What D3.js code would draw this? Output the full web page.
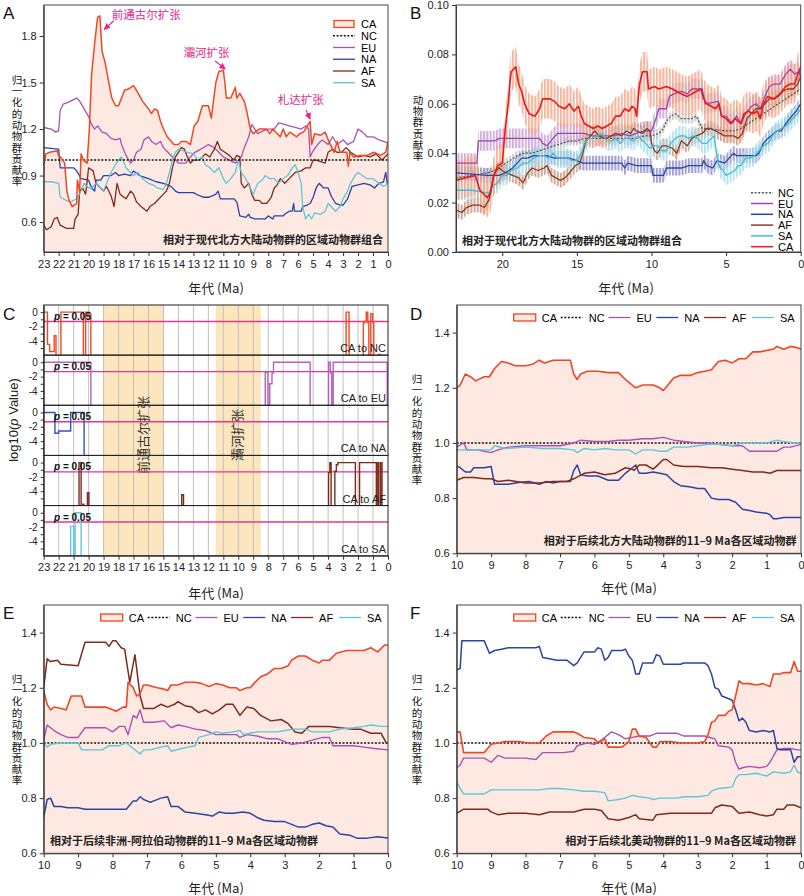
<!DOCTYPE html>
<html>
<head>
<meta charset="utf-8">
<script src="https://cdn.jsdelivr.net/npm/d3@7/dist/d3.min.js"></script>
<style>
body{margin:0;background:#fff}
svg text{font-family:"Liberation Sans",Arial,sans-serif}
svg text.cjk{font-family:"Noto Sans CJK SC",sans-serif}
</style>
</head>
<body>
<svg id="chart" width="804" height="896"></svg>
<script>
// ---------------- panel A : normalised contribution, 23-0 Ma
var ageTicksA = d3.range(23, -1, -1)
var yTicksA = [0.6, 0.9, 1.2, 1.5, 1.8]
var aNC = [[23,1],[0,1]]
var aCA = [[23,0.97],[22.85,1.04],[22.6,1.05],[22.1,1.06],[22.0,1.03],[21.8,1.01],[21.6,0.98],[21.45,0.80],[21.3,0.74],[21.1,0.70],[20.8,0.72],[20.75,0.87],[20.6,0.80],[20.5,1.04],[20.35,1.00],[20.1,0.98],[19.95,1.20],[19.8,1.55],[19.6,1.75],[19.4,1.92],[19.25,1.93],[19.1,1.70],[18.9,1.63],[18.65,1.50],[18.45,1.40],[18.2,1.35],[18.0,1.35],[17.8,1.40],[17.6,1.45],[17.3,1.46],[17.0,1.48],[16.8,1.45],[16.4,1.38],[16.0,1.33],[15.8,1.30],[15.6,1.33],[15.4,1.32],[15.2,1.25],[15.0,1.20],[14.75,1.15],[14.3,1.10],[14.0,1.10],[13.8,1.12],[13.5,1.12],[13.2,1.10],[12.95,1.22],[12.7,1.25],[12.4,1.35],[12.0,1.35],[11.8,1.27],[11.7,1.35],[11.5,1.50],[11.3,1.57],[11.0,1.58],[10.9,1.50],[10.8,1.40],[10.5,1.40],[10.2,1.47],[10.1,1.40],[9.9,1.43],[9.6,1.38],[9.4,1.30],[9.2,1.20],[9.0,1.17],[8.6,1.20],[8.1,1.20],[7.9,1.17],[7.7,1.20],[7.2,1.15],[7.0,1.20],[6.8,1.15],[6.55,1.18],[6.1,1.15],[5.9,1.17],[5.65,1.18],[5.2,1.25],[5.1,1.10],[4.9,1.17],[4.5,1.16],[4.2,1.18],[3.95,1.12],[3.6,1.05],[3.4,1.12],[3.2,1.05],[2.75,1.05],[2.65,0.96],[2.55,1.05],[2.3,1.02],[1.85,1.03],[1.4,1.03],[0.95,1.05],[0.5,1.03],[0.15,1.05],[0,1.12]]
var aEU = [[23,1.21],[22.5,1.20],[22.2,1.18],[22.0,1.19],[21.9,1.32],[21.7,1.36],[21.4,1.37],[21.0,1.39],[20.8,1.40],[20.6,1.38],[20.3,1.33],[20.0,1.28],[19.8,1.23],[19.6,1.20],[19.4,1.22],[19.1,1.18],[18.8,1.17],[18.5,1.14],[18.2,1.13],[17.9,1.14],[17.8,1.10],[17.5,1.03],[17.2,0.98],[17.0,1.00],[16.8,1.05],[16.5,1.07],[16.3,1.13],[16.0,1.15],[15.8,1.12],[15.5,1.10],[15.2,1.12],[15.0,1.08],[14.8,1.06],[14.4,1.02],[14.0,0.98],[13.5,0.98],[13.2,1.02],[12.9,1.05],[12.5,1.07],[12.0,1.10],[11.6,1.08],[11.3,1.05],[11.0,1.02],[10.6,1.00],[10.2,0.98],[9.8,1.02],[9.6,1.08],[9.3,1.15],[9.1,1.23],[8.9,1.20],[8.7,1.17],[8.3,1.19],[8.0,1.20],[7.6,1.20],[7.3,1.24],[6.9,1.23],[6.6,1.22],[6.2,1.21],[5.8,1.20],[5.5,1.22],[5.3,1.20],[5.2,1.02],[5.0,1.06],[4.7,1.10],[4.4,1.13],[4.0,1.10],[3.7,1.15],[3.4,1.10],[3.0,1.13],[2.7,1.10],[2.3,1.12],[2.0,1.20],[1.7,1.18],[1.4,1.15],[1.0,1.15],[0.6,1.13],[0.3,1.12],[0,1.11]]
var aNA = [[23,1.08],[22.0,1.07],[21.9,0.95],[21.0,0.95],[20.8,0.93],[20.5,0.88],[20.0,0.87],[19.8,0.82],[19.6,0.80],[19.5,0.87],[19.2,0.87],[19.0,0.90],[18.5,0.90],[18.2,0.92],[18.0,0.90],[17.6,0.91],[17.2,0.90],[17.0,0.93],[16.6,0.90],[16.0,0.88],[15.5,0.86],[15.0,0.85],[14.5,0.83],[14.2,0.80],[14.0,0.79],[13.0,0.79],[12.6,0.77],[12.3,0.76],[12.0,0.76],[11.7,0.77],[11.5,0.78],[11.35,0.80],[11.2,0.75],[10.3,0.75],[10.1,0.73],[9.9,0.64],[9.5,0.63],[9.3,0.65],[9.2,0.63],[8.9,0.62],[8.2,0.62],[8.0,0.64],[7.7,0.62],[7.6,0.64],[7.0,0.64],[6.9,0.65],[6.6,0.67],[6.4,0.67],[6.3,0.72],[6.25,0.67],[5.8,0.67],[5.7,0.70],[5.4,0.71],[5.2,0.72],[5.0,0.76],[4.8,0.82],[4.6,0.85],[4.3,0.82],[4.0,0.82],[3.8,0.77],[3.5,0.72],[3.2,0.71],[3.0,0.71],[2.7,0.75],[2.4,0.83],[2.0,0.84],[1.6,0.85],[1.2,0.84],[0.9,0.82],[0.6,0.85],[0.3,0.86],[0.15,0.92],[0.05,0.85],[0,0.85]]
var aAF = [[23,0.58],[22.8,0.55],[22.5,0.57],[22.3,0.62],[22.1,0.63],[21.9,0.58],[21.5,0.56],[21.0,0.56],[20.9,0.62],[20.7,0.65],[20.6,0.80],[20.4,0.82],[20.2,0.78],[20.0,0.95],[19.7,0.93],[19.5,0.85],[19.2,0.82],[19.0,0.80],[18.8,0.83],[18.5,0.77],[18.3,0.70],[18.1,0.85],[17.9,0.78],[17.5,0.75],[17.2,0.80],[17.0,0.78],[16.8,0.73],[16.5,0.70],[16.1,0.67],[15.9,0.70],[15.6,0.72],[15.3,0.75],[15.0,0.78],[14.8,0.80],[14.6,0.85],[14.4,0.95],[14.2,1.02],[14.0,1.05],[13.8,1.08],[13.6,1.07],[13.4,1.02],[13.2,0.98],[13.0,1.00],[12.6,1.00],[12.2,1.04],[11.9,1.02],[11.6,1.07],[11.4,1.12],[11.2,1.07],[10.9,1.05],[10.6,1.03],[10.3,1.00],[10.1,1.03],[9.9,1.02],[9.8,0.85],[9.6,0.82],[9.3,0.85],[9.1,0.78],[8.9,0.74],[8.6,0.74],[8.4,0.72],[8.1,0.72],[7.8,0.76],[7.6,0.82],[7.4,0.84],[7.2,0.88],[6.9,0.85],[6.6,0.88],[6.2,0.92],[5.8,0.93],[5.5,0.95],[5.2,0.95],[5.0,1.00],[4.8,1.00],[4.5,0.99],[4.2,0.98],[4.0,1.05],[3.7,1.07],[3.4,1.05],[3.1,1.05],[2.8,1.08],[2.5,1.05],[2.0,1.02],[1.6,1.03],[1.2,1.02],[0.8,1.04],[0.4,1.00],[0,1.04]]
var aSA = [[23,0.86],[22.5,0.86],[22.0,0.85],[21.9,0.76],[21.5,0.74],[21.2,0.73],[20.8,0.75],[20.5,0.80],[20.3,0.85],[20.0,0.82],[19.8,0.82],[19.5,0.85],[19.2,0.82],[19.0,0.80],[18.8,0.85],[18.5,0.92],[18.2,0.97],[18.0,1.00],[17.8,1.02],[17.5,0.95],[17.2,0.92],[17.0,0.90],[16.7,0.92],[16.4,0.88],[16.0,0.85],[15.7,0.84],[15.4,0.82],[15.0,0.81],[14.8,0.85],[14.6,0.92],[14.4,1.00],[14.2,1.05],[14.0,1.07],[13.7,1.06],[13.4,1.05],[13.0,1.04],[12.7,1.00],[12.4,1.02],[12.2,0.97],[11.9,0.95],[11.6,0.92],[11.3,0.95],[11.0,0.88],[10.8,0.85],[10.5,0.88],[10.2,0.92],[10.0,1.00],[9.8,0.92],[9.5,0.88],[9.2,0.82],[9.0,0.78],[8.7,0.85],[8.4,0.87],[8.2,0.90],[7.9,0.88],[7.6,0.88],[7.3,0.85],[7.0,0.88],[6.7,0.90],[6.4,0.95],[6.2,0.97],[6.0,0.92],[5.8,0.85],[5.7,0.70],[5.5,0.62],[5.3,0.65],[5.1,0.62],[4.9,0.66],[4.5,0.65],[4.2,0.67],[4.0,0.72],[3.8,0.70],[3.5,0.67],[3.2,0.70],[3.0,0.75],[2.7,0.80],[2.5,0.85],[2.2,0.90],[2.0,0.92],[1.7,0.90],[1.4,0.88],[1.0,0.88],[0.6,0.85],[0.3,0.83],[0,0.85]]
var annotA = [["前通古尔扩张", 18.95, 1.843], ["灞河扩张", 10.88, 1.587], ["札达扩张", 5.2, 1.265]]

// ---------------- panel B : raw contribution with spread
var ageTicksB = [20, 15, 10, 5, 0]
var yTicksB = [0, 0.02, 0.04, 0.06, 0.08, 0.10]
var bNames = ["NC", "EU", "NA", "AF", "SA", "CA"]
var bHalf = [0.002, 0.004, 0.003, 0.003, 0.004, 0.008]
var bNC = [[23.1,0.030],[22,0.031],[21,0.032],[20.5,0.033],[20,0.035],[19.5,0.037],[19,0.039],[18.5,0.040],[18,0.040],[17.5,0.041],[17,0.042],[16.5,0.043],[16,0.044],[15.5,0.045],[15,0.045],[14.5,0.046],[11,0.046],[10.5,0.047],[10,0.047],[9.5,0.048],[9.2,0.050],[9,0.053],[8.7,0.055],[8.4,0.056],[8,0.054],[7.3,0.054],[7,0.055],[6.6,0.050],[5,0.049],[4.5,0.049],[4,0.050],[3.5,0.052],[3,0.054],[2.5,0.056],[2,0.058],[1.5,0.060],[1,0.062],[0.5,0.064],[0,0.066]]
var bEU = [[23.1,0.036],[21.7,0.036],[21.6,0.045],[20.5,0.045],[20.2,0.046],[17.5,0.046],[17.3,0.044],[17,0.043],[16.6,0.046],[16.3,0.048],[14.5,0.048],[14,0.047],[12.5,0.047],[12,0.048],[11.5,0.047],[11,0.048],[10.5,0.049],[10,0.049],[9.7,0.054],[9.5,0.058],[9,0.058],[8.8,0.063],[8.5,0.064],[8,0.065],[7.6,0.064],[7.3,0.066],[6.6,0.066],[6.4,0.060],[5.5,0.061],[5.3,0.055],[5,0.055],[4.6,0.052],[4.3,0.055],[4,0.052],[3.7,0.056],[3.3,0.059],[3,0.060],[2.7,0.058],[2.4,0.063],[2.1,0.067],[1.8,0.068],[1.4,0.068],[1,0.072],[0.7,0.074],[0.4,0.072],[0.1,0.073],[0,0.070]]
var bNA = [[23.1,0.032],[21,0.031],[20.2,0.031],[19.8,0.032],[19.3,0.034],[19,0.036],[18.7,0.038],[18.3,0.038],[17.9,0.039],[17,0.039],[16.5,0.038],[15.5,0.038],[15,0.037],[14.6,0.036],[12,0.036],[11.8,0.034],[11.6,0.036],[11,0.035],[10,0.035],[9.9,0.031],[9.2,0.031],[9,0.034],[8,0.034],[7.5,0.035],[6.6,0.035],[6.5,0.037],[6.3,0.035],[5.9,0.034],[5.6,0.037],[5.1,0.036],[4.8,0.038],[4.5,0.040],[4.3,0.039],[3,0.039],[2.8,0.040],[2.5,0.044],[2.2,0.046],[2,0.047],[1.6,0.049],[1.3,0.049],[1,0.052],[0.6,0.055],[0.3,0.057],[0,0.060]]
var bAF = [[23.1,0.017],[22.7,0.016],[22.4,0.018],[22,0.019],[21.5,0.019],[21.2,0.018],[20.9,0.021],[20.7,0.026],[20.6,0.031],[20.4,0.033],[20.2,0.034],[20,0.033],[19.7,0.032],[19.3,0.031],[18.9,0.030],[18.6,0.028],[18.3,0.032],[18,0.034],[17.6,0.033],[17.2,0.034],[17,0.035],[16.7,0.031],[16.4,0.030],[16.1,0.029],[15.8,0.030],[15.5,0.032],[15.1,0.035],[14.8,0.036],[14.6,0.040],[14.4,0.045],[14.1,0.047],[13.8,0.049],[13.5,0.047],[13.2,0.046],[13,0.046],[12.7,0.047],[12.4,0.048],[12,0.047],[11.7,0.049],[11.4,0.048],[11.2,0.050],[11,0.049],[10.6,0.048],[10.3,0.050],[10.1,0.049],[10,0.044],[9.8,0.041],[9.6,0.040],[9.3,0.043],[9,0.043],[8.6,0.042],[8.3,0.040],[8,0.045],[7.6,0.043],[7.3,0.046],[7,0.047],[6.6,0.048],[6.3,0.050],[6,0.050],[5.7,0.049],[5.4,0.048],[5.1,0.047],[4.5,0.047],[4.2,0.046],[3.9,0.048],[3.6,0.054],[3.3,0.056],[3,0.058],[2.7,0.058],[2.4,0.060],[2.1,0.062],[1.8,0.062],[1.5,0.063],[1.2,0.065],[0.9,0.066],[0.5,0.066],[0.2,0.068],[0,0.071]]
var bSA = [[23.1,0.025],[22,0.025],[21.2,0.024],[20.9,0.024],[20.6,0.027],[20.3,0.028],[20,0.031],[19.7,0.031],[19.4,0.033],[19,0.034],[18.6,0.036],[18.3,0.036],[17.9,0.038],[17.5,0.039],[17.2,0.039],[16.9,0.038],[16.6,0.040],[16.3,0.038],[15.6,0.038],[15.3,0.037],[15,0.037],[14.7,0.040],[14.5,0.044],[14.2,0.046],[14,0.046],[13.6,0.047],[13.3,0.048],[13,0.045],[12.7,0.045],[12.4,0.046],[12.1,0.044],[11.8,0.046],[11.5,0.046],[11.2,0.045],[10.9,0.047],[10.6,0.045],[10.4,0.044],[10.1,0.042],[9.9,0.043],[9.6,0.043],[9.3,0.041],[9,0.041],[8.7,0.044],[8.4,0.046],[8.1,0.047],[7.8,0.047],[7.5,0.046],[7.2,0.047],[6.9,0.046],[6.6,0.044],[6.3,0.044],[6,0.046],[5.8,0.047],[5.6,0.038],[5.4,0.034],[5.2,0.033],[5,0.031],[4.7,0.032],[4.4,0.033],[4.2,0.035],[4,0.035],[3.7,0.038],[3.4,0.038],[3.1,0.039],[2.8,0.041],[2.5,0.043],[2.2,0.044],[1.9,0.047],[1.6,0.049],[1.3,0.050],[1,0.051],[0.7,0.053],[0.4,0.055],[0.2,0.056],[0,0.058]]
var bCA = [[23.1,0.029],[22.5,0.030],[21.8,0.031],[21.5,0.025],[21,0.022],[20.8,0.024],[20.6,0.030],[20.3,0.035],[20,0.036],[19.9,0.043],[19.8,0.050],[19.6,0.060],[19.5,0.068],[19.4,0.073],[19.1,0.075],[18.9,0.068],[18.7,0.065],[18.5,0.060],[18.2,0.056],[17.8,0.055],[17.5,0.058],[17.3,0.062],[16.8,0.062],[16.5,0.061],[16.2,0.059],[15.8,0.058],[15.5,0.060],[15.2,0.057],[14.9,0.059],[14.7,0.055],[14.5,0.052],[14.2,0.051],[13.9,0.050],[13.6,0.051],[13.3,0.050],[13,0.051],[12.7,0.052],[12.4,0.055],[12.1,0.055],[11.8,0.058],[11.5,0.057],[11.3,0.059],[11.1,0.058],[11,0.055],[10.8,0.068],[10.6,0.073],[10.3,0.073],[10.2,0.066],[9.8,0.067],[9.5,0.066],[9,0.067],[8.6,0.066],[8.3,0.065],[8,0.064],[7.6,0.063],[7.3,0.064],[7,0.065],[6.7,0.066],[6.5,0.062],[6.3,0.060],[6,0.059],[5.7,0.058],[5.5,0.060],[5.3,0.055],[5,0.054],[4.7,0.052],[4.4,0.054],[4.2,0.053],[4,0.052],[3.8,0.056],[3.5,0.057],[3.2,0.056],[2.9,0.057],[2.7,0.054],[2.5,0.060],[2.2,0.063],[1.8,0.062],[1.4,0.064],[1,0.067],[0.7,0.068],[0.4,0.068],[0.2,0.072],[0,0.075]]

// ---------------- panel C : log10 p values (step series, -9 = below axis)
var cBands = [[19, 15], [11.5, 8.5]]
var cBandText = [["前通古尔扩张", 16.4], ["灞河扩张", 10.1]]
var cLabels = ["CA to NC", "CA to EU", "CA to NA", "CA to AF", "CA to SA"]
var cNC = [[23,0],[22.75,-4.5],[22.6,-5.5],[22.3,-3.3],[22.18,-9],[21.85,0],[20.35,-9],[20.2,0],[19.95,-0.3],[19.85,-9],[2.8,0],[2.6,-9],[1.65,-1.5],[1.55,-1.3],[1.45,0],[1.35,-1.5],[1.28,-9],[1.15,-0.2],[1.02,-1.4],[0.95,-9],[0.62,-5.9],[0.55,-9],[0,-9]]
var cEU = [[23,0],[19.85,-9],[8.2,-1.4],[8.02,-9],[7.9,-3],[7.75,-1.5],[7.65,0],[5.2,-9],[3.97,0],[3.85,-1.5],[3.76,-9],[3.66,0],[0.05,-9],[0,-9]]
var cNA = [[23,0],[22.25,-2.9],[22.0,-2.6],[21.2,0],[20.3,-9],[0,-9]]
var cAF = [[23,-9],[20.64,0],[20.5,-9],[20.38,-5.8],[20.32,-9],[20.08,-4.2],[19.98,-9],[13.78,-4.5],[13.66,-9],[3.97,-1.4],[3.88,0],[3.8,-9],[3.55,-1.2],[3.45,-0.3],[3.35,0],[2.18,-9],[1.9,0],[0.78,-9],[0.72,0],[0.62,-9],[0.5,0],[0.4,-9],[0,-9]]
var cSA = [[23,-9],[21.2,-1.9],[21.0,-9],[20.9,0],[20.5,-9],[0,-9]]

// ---------------- panels D E F : 10-0 Ma
var ageTicks10 = d3.range(10, -1, -1)
var yTicks10 = [0.6, 0.8, 1.0, 1.2, 1.4]
var dCA = [[10,1.2],[9.9,1.21],[9.75,1.25],[9.6,1.24],[9.45,1.225],[9.2,1.24],[9.05,1.24],[8.9,1.27],[8.7,1.295],[8.5,1.29],[8.3,1.28],[8,1.28],[7.8,1.285],[7.6,1.3],[7.45,1.29],[7.2,1.3],[6.7,1.3],[6.6,1.25],[6.5,1.23],[6.4,1.25],[6.2,1.26],[5.9,1.26],[5.6,1.255],[5.3,1.255],[5.1,1.23],[4.9,1.21],[4.8,1.2],[4.6,1.21],[4.3,1.21],[4.1,1.2],[4,1.19],[3.9,1.205],[3.7,1.235],[3.5,1.245],[3.2,1.245],[3,1.255],[2.8,1.26],[2.6,1.265],[2.4,1.295],[2.2,1.3],[2,1.29],[1.8,1.305],[1.6,1.305],[1.4,1.33],[1.2,1.33],[1,1.335],[0.8,1.34],[0.7,1.35],[0.5,1.34],[0.3,1.35],[0.1,1.345],[0,1.34]]
var dEU = [[10,0.985],[9.8,1.0],[9.7,0.975],[9.4,0.975],[9.2,0.97],[9,0.965],[8.8,0.975],[8.5,0.985],[8,0.99],[7,0.99],[6.6,1.0],[6.4,1.01],[6,1.005],[5.6,1.005],[5.3,1.01],[5,1.01],[4.6,1.015],[4.3,1.015],[4,1.02],[3.7,1.01],[3.4,1.005],[3,1.0],[2.7,1.0],[2.4,0.995],[2,0.99],[1.7,0.99],[1.5,0.97],[0.7,0.97],[0.5,0.985],[0.3,0.985],[0,0.995]]
var dNA = [[10,0.916],[9.9,0.91],[9.75,0.895],[9.6,0.895],[9.5,0.91],[9.2,0.91],[9,0.915],[8.9,0.85],[8.5,0.85],[8.2,0.857],[7.9,0.86],[7.6,0.85],[7.4,0.86],[7.2,0.855],[7,0.86],[6.7,0.86],[6.6,0.9],[6.5,0.92],[6.4,0.885],[6.2,0.88],[5.9,0.88],[5.6,0.865],[5.3,0.865],[5.1,0.89],[4.9,0.91],[4.8,0.92],[4.7,0.89],[4.5,0.89],[4.3,0.895],[4.1,0.89],[3.9,0.885],[3.7,0.86],[3.5,0.845],[3.2,0.84],[3,0.835],[2.8,0.835],[2.6,0.8],[2.4,0.795],[2.1,0.795],[1.9,0.785],[1.7,0.76],[1.5,0.755],[1.3,0.75],[1,0.745],[0.9,0.74],[0.8,0.725],[0.7,0.725],[0.5,0.73],[0,0.73]]
var dAF = [[10,0.865],[9.8,0.875],[9.5,0.875],[9.2,0.87],[9,0.87],[8.8,0.86],[8.5,0.865],[8,0.855],[7.6,0.855],[7.2,0.86],[6.8,0.86],[6.6,0.87],[6.3,0.89],[6,0.895],[5.7,0.885],[5.4,0.89],[5.1,0.91],[4.9,0.905],[4.85,0.9],[4.7,0.92],[4.5,0.92],[4.3,0.905],[4.2,0.915],[4,0.94],[3.9,0.94],[3.7,0.92],[3.4,0.915],[3,0.915],[2.6,0.91],[2.3,0.91],[2,0.905],[1.7,0.9],[1.4,0.895],[1.1,0.895],[0.9,0.89],[0.7,0.9],[0,0.9]]
var dSA = [[10,0.975],[9,0.975],[8.9,0.99],[8.6,0.98],[8,0.985],[7.5,0.98],[7,0.98],[6.6,0.975],[6.5,0.965],[6.3,0.98],[6,0.975],[5.7,0.98],[5.4,0.975],[5,0.975],[4.8,0.96],[4.6,0.975],[4.3,0.975],[4.1,0.97],[3.9,0.97],[3.7,0.985],[3.3,0.985],[3,0.99],[2.7,0.995],[2.3,0.995],[2,0.99],[1.7,1.0],[1,1.0],[0.7,1.01],[0.5,1.005],[0.2,1.0],[0,1.0]]
var eCA = [[10,1.19],[9.9,1.14],[9.8,1.12],[9.7,1.13],[9.5,1.125],[9.35,1.12],[9.2,1.17],[8.9,1.17],[8.8,1.13],[8.2,1.13],[8,1.12],[7.9,1.115],[7.7,1.13],[7.6,1.13],[7.55,1.22],[7.4,1.2],[7.3,1.17],[7.2,1.18],[7.1,1.21],[7,1.21],[6.7,1.2],[6.5,1.195],[6.4,1.19],[6.3,1.21],[6.1,1.21],[5.9,1.22],[5.6,1.22],[5.4,1.215],[5.2,1.205],[5,1.215],[4.8,1.21],[4.6,1.2],[4.4,1.2],[4.3,1.19],[4.1,1.2],[4,1.2],[3.9,1.215],[3.7,1.24],[3.5,1.25],[3.3,1.27],[3.1,1.27],[2.9,1.28],[2.8,1.3],[2.6,1.315],[2.4,1.315],[2.2,1.3],[2,1.29],[1.9,1.3],[1.7,1.3],[1.5,1.325],[1.2,1.335],[0.7,1.335],[0.5,1.345],[0.3,1.33],[0.1,1.355],[0,1.355]]
var eEU = [[10,1.01],[9.9,1.065],[9.7,1.045],[9.5,1.03],[9.3,1.02],[9,1.02],[8.8,1.055],[8.2,1.055],[8,1.04],[7.8,1.06],[7.65,1.06],[7.55,1.03],[7.4,1.1],[7.3,1.09],[7.2,1.12],[7.1,1.075],[6.8,1.075],[6.5,1.08],[6.3,1.055],[6.1,1.065],[5.9,1.06],[5.6,1.05],[5.3,1.045],[5,1.03],[4.4,1.03],[4.3,1.02],[4.1,1.03],[3.8,1.025],[3.5,1.015],[3.2,1.015],[3,1.005],[2.8,0.995],[2.5,1.0],[2.2,1.01],[1.9,1.02],[1.7,1.02],[1.6,0.99],[1,0.99],[0.7,0.985],[0.4,0.98],[0,0.975]]
var eNA = [[10,0.73],[9.9,0.795],[9.8,0.8],[9.7,0.77],[9.5,0.77],[9.3,0.765],[9,0.765],[8.8,0.76],[7.6,0.76],[7.5,0.775],[7.4,0.79],[7.3,0.79],[7.2,0.805],[7.1,0.795],[7,0.79],[6.9,0.785],[6.8,0.79],[6.6,0.8],[6.4,0.805],[6.3,0.77],[6.1,0.77],[5.9,0.75],[5.6,0.745],[5.3,0.74],[5.1,0.735],[4.9,0.75],[4.7,0.745],[4.5,0.745],[4.2,0.75],[4,0.745],[3.8,0.73],[3.6,0.72],[3.3,0.715],[3,0.715],[2.8,0.705],[2.6,0.695],[2.4,0.695],[2.2,0.705],[2,0.71],[1.8,0.7],[1.6,0.695],[1.4,0.67],[1.1,0.665],[0.9,0.655],[0.6,0.655],[0.3,0.66],[0,0.655]]
var eAF = [[10,1.2],[9.9,1.305],[9.8,1.295],[9.6,1.3],[9.5,1.285],[9,1.28],[8.8,1.365],[8.2,1.365],[8.1,1.35],[8,1.37],[7.9,1.37],[7.75,1.345],[7.65,1.34],[7.5,1.22],[7.35,1.32],[7.2,1.17],[7.1,1.125],[6.8,1.125],[6.6,1.14],[6.4,1.13],[6.2,1.14],[6.1,1.15],[5.9,1.135],[5.7,1.13],[5.5,1.11],[5.3,1.12],[5.1,1.105],[4.9,1.12],[4.7,1.14],[4.5,1.14],[4.3,1.1],[4.1,1.13],[3.9,1.125],[3.7,1.1],[3.4,1.08],[3.1,1.085],[2.9,1.07],[2.7,1.04],[2.5,1.035],[2.3,1.06],[1.7,1.06],[1.4,1.055],[1,1.05],[0.8,1.05],[0.5,1.035],[0.2,1.035],[0.05,1.0],[0,1.0]]
var eSA = [[10,1.0],[9.9,0.985],[9.8,0.995],[9.5,1.0],[9,1.0],[8.9,0.975],[8.3,0.975],[8.1,0.99],[7.8,0.99],[7.6,1.0],[7.4,0.98],[7.2,0.96],[7.1,0.975],[6.9,0.975],[6.6,0.985],[6.4,0.99],[6.3,0.97],[6,0.98],[5.8,0.985],[5.6,0.99],[5.5,1.02],[5.2,1.03],[5,1.04],[4.8,1.035],[4.5,1.04],[4.3,1.045],[4.2,1.03],[4,1.035],[3.8,1.04],[3.2,1.04],[3,1.045],[2.7,1.05],[2.4,1.05],[2.2,1.04],[1.7,1.04],[1.4,1.05],[1,1.055],[0.7,1.06],[0.5,1.065],[0.2,1.06],[0,1.06]]
var fCA = [[10,1.04],[9.9,1.04],[9.8,0.965],[9.2,0.965],[9,0.995],[8.8,1.0],[8.6,1.005],[8.2,1.005],[7.9,1.0],[7.6,1.0],[7.4,1.025],[7.2,1.04],[6.6,1.04],[6.5,1.035],[6.3,1.02],[6,1.015],[5.9,1.0],[5.7,1.015],[5.6,0.985],[5.2,0.985],[5,1.005],[4.9,1.05],[4.8,1.05],[4.7,1.025],[4.5,1.02],[4.3,0.985],[4.2,0.985],[4.1,1.005],[3.8,1.005],[3.5,1.0],[3,1.0],[2.8,1.005],[2.7,1.03],[2.6,1.075],[2.5,1.08],[2.4,1.1],[2.2,1.1],[2.1,1.115],[2,1.12],[1.9,1.17],[1.8,1.225],[1.7,1.215],[1.5,1.215],[1.3,1.21],[1.1,1.215],[0.9,1.205],[0.8,1.25],[0.6,1.25],[0.5,1.255],[0.3,1.255],[0.2,1.295],[0.1,1.26],[0,1.26]]
var fEU = [[10,0.91],[9.9,0.92],[9.8,0.945],[9.2,0.945],[9,0.93],[8.8,0.955],[8.6,0.945],[8,0.945],[7.7,0.94],[7.5,0.965],[6.9,0.965],[6.6,0.97],[6.5,0.99],[6.2,1.0],[6,0.995],[5.8,1.01],[5.6,1.03],[5.5,1.04],[5.3,1.03],[5.1,1.015],[4.9,1.02],[4.7,1.025],[4.4,1.025],[4.2,1.035],[3.6,1.035],[3.4,1.025],[2.8,1.025],[2.5,1.015],[2.4,0.99],[2.1,0.985],[2,0.975],[1.9,0.93],[1.8,0.905],[1.7,0.91],[1.5,0.915],[1.2,0.91],[1,0.915],[0.9,0.93],[0.7,0.975],[0.5,0.98],[0.3,0.98],[0.1,0.975],[0,0.975]]
var fNA = [[10,1.265],[9.9,1.27],[9.85,1.37],[9.2,1.37],[9.05,1.325],[8.9,1.335],[8.7,1.34],[8.5,1.345],[7.7,1.345],[7.6,1.35],[7.5,1.31],[7.3,1.305],[7.1,1.3],[6.8,1.3],[6.6,1.28],[6.5,1.29],[6.3,1.33],[6,1.33],[5.9,1.345],[5.8,1.34],[5.7,1.3],[5.6,1.31],[5.5,1.335],[5.2,1.335],[5.1,1.34],[5,1.315],[4.9,1.3],[4.8,1.25],[4.7,1.25],[4.6,1.29],[4.3,1.29],[4.2,1.32],[4.1,1.315],[4,1.285],[3.5,1.285],[3.4,1.29],[2.8,1.29],[2.7,1.28],[2.6,1.25],[2.5,1.2],[2.4,1.195],[2.3,1.17],[2.1,1.16],[2,1.155],[1.9,1.12],[1.8,1.08],[1.7,1.09],[1.6,1.075],[1.5,1.045],[1.3,1.04],[1.1,1.045],[0.9,1.04],[0.8,1.045],[0.7,0.98],[0.6,0.975],[0.3,0.975],[0.2,0.93],[0.1,0.95],[0,0.95]]
var fAF = [[10,0.745],[9.8,0.76],[9.1,0.76],[9,0.75],[8.8,0.74],[8.5,0.745],[8,0.745],[7.6,0.74],[7.3,0.75],[6.6,0.75],[6.3,0.76],[6,0.76],[5.8,0.755],[5.6,0.725],[5.3,0.72],[5,0.73],[4.8,0.74],[4.7,0.725],[4.3,0.72],[4.2,0.74],[3.8,0.745],[2.6,0.745],[2.5,0.765],[2.3,0.775],[2,0.77],[1.8,0.745],[1.5,0.75],[1.2,0.74],[1,0.735],[0.8,0.74],[0.7,0.76],[0.5,0.76],[0.4,0.775],[0.2,0.775],[0,0.765]]
var fSA = [[10,0.86],[9.9,0.835],[9.8,0.815],[9.2,0.815],[9,0.83],[7.6,0.83],[7.3,0.835],[7,0.835],[6.6,0.83],[6.3,0.825],[6,0.825],[5.7,0.82],[5.6,0.79],[5.3,0.795],[5.1,0.8],[4.9,0.81],[4.7,0.805],[4.4,0.8],[4.3,0.795],[4.1,0.8],[3.6,0.8],[3.4,0.805],[3,0.805],[2.7,0.81],[2.6,0.825],[2.4,0.835],[2,0.84],[1.9,0.87],[1.8,0.885],[1.6,0.885],[1.3,0.89],[1,0.88],[0.8,0.895],[0.5,0.89],[0.3,0.895],[0.2,0.92],[0.1,0.895],[0,0.89]]
var ncLine10 = [[10,1],[0,1]]

var col = {CA:"#ef4623", NC:"#111111", EU:"#a753b5", NA:"#2b44a3", AF:"#7e2b1d", SA:"#5ec6d8"}
var fillCA = "#fde9e1"
var svg = d3.select("#chart")
var defs = svg.append("defs")
var clipN = 0

function panel(l, r, t, b, xd, yd){
	var p = {l:l, r:r, t:t, b:b}
	p.x = d3.scaleLinear().domain(xd).range([l, r])
	p.y = d3.scaleLinear().domain(yd).range([b, t])
	p.g = svg.append("g")
	var id = "clip" + (clipN++)
	defs.append("clipPath").attr("id", id).append("rect")
		.attr("x", l).attr("y", t).attr("width", r - l).attr("height", b - t)
	p.clip = "url(#" + id + ")"
	return p
}

function styleAxis(a){
	a.attr("font-size", 11).attr("font-family", '"Liberation Sans",Arial,sans-serif')
	a.selectAll("line").attr("stroke", "#333")
	a.selectAll("path").attr("stroke", "#333")
	a.selectAll("text").attr("fill", "#222")
}

function axes(p, xt, yt, yf){
	var ax = p.g.append("g").attr("transform", "translate(0," + p.b + ")")
		.call(d3.axisBottom(p.x).tickValues(xt).tickSize(4).tickPadding(4).tickSizeOuter(0).tickFormat(d3.format("d")))
	styleAxis(ax)
	if (yt){
		var ay = p.g.append("g").attr("transform", "translate(" + p.l + ",0)")
			.call(d3.axisLeft(p.y).tickValues(yt).tickSize(4).tickPadding(3).tickSizeOuter(0).tickFormat(yf))
		styleAxis(ay)
	}
	p.g.append("rect").attr("x", p.l).attr("y", p.t).attr("width", p.r - p.l).attr("height", p.b - p.t)
		.attr("fill", "none").attr("stroke", "#444").attr("stroke-width", 1)
}

function line(p, data, c, w, dash){
	p.g.append("path").datum(data)
		.attr("clip-path", p.clip)
		.attr("d", d3.line().x(function(d){ return p.x(d[0]) }).y(function(d){ return p.y(d[1]) }))
		.attr("fill", "none").attr("stroke", c).attr("stroke-width", w)
		.attr("stroke-linejoin", "round")
		.attr("stroke-dasharray", dash || null)
}

function fillUnder(p, data){
	p.g.append("path").datum(data)
		.attr("d", d3.area().x(function(d){ return p.x(d[0]) }).y0(p.b).y1(function(d){ return p.y(d[1]) }))
		.attr("fill", fillCA)
}

function letter(t, x, y){
	svg.append("text").attr("x", x).attr("y", y).attr("font-size", 17).attr("fill", "#111").text(t)
}

// vertical (top to bottom) axis title, one text element
function stackText(str, x, yc){
	svg.append("text").attr("class", "cjk").attr("x", x).attr("y", yc)
		.style("writing-mode", "vertical-rl").style("letter-spacing", "0.8px")
		.attr("text-anchor", "middle")
		.attr("font-size", 10.5).attr("fill", "#111").text(str)
}

function xTitle(x, y){
	svg.append("text").attr("class", "cjk").attr("x", x).attr("y", y)
		.attr("text-anchor", "middle").attr("dominant-baseline", "central")
		.attr("font-size", 13).attr("fill", "#222").text("年代 (Ma)")
}

function note(str, x, y, anchor){
	svg.append("text").attr("class", "cjk").attr("x", x).attr("y", y)
		.attr("text-anchor", anchor).attr("dominant-baseline", "central")
		.attr("font-size", 11).attr("font-weight", "bold").attr("fill", "#222").text(str)
}

// horizontal legend used by D E F
function hLegend(p){
	var x0 = p.l + 57, yc = p.t + 12.5
	var g = p.g.append("g")
	g.append("rect").attr("x", x0).attr("y", yc - 3.5).attr("width", 22).attr("height", 7)
		.attr("fill", fillCA).attr("stroke", col.CA).attr("stroke-width", 1.3)
	g.append("text").attr("x", x0 + 28).attr("y", yc).attr("dominant-baseline", "central").attr("font-size", 11).text("CA")
	var items = ["NC", "EU", "NA", "AF", "SA"]
	items.forEach(function(n, i){
		var xs = x0 + 47 + i * 47.8
		g.append("line").attr("x1", xs).attr("x2", xs + 22).attr("y1", yc).attr("y2", yc)
			.attr("stroke", col[n]).attr("stroke-width", n == "NC" ? 1.6 : 1.3)
			.attr("stroke-dasharray", n == "NC" ? "2,1.6" : null)
		g.append("text").attr("x", xs + 28).attr("y", yc).attr("dominant-baseline", "central").attr("font-size", 11).text(n)
	})
}

// ================= A
var pA = panel(43.7, 388, 5, 252, [23, 0], [0.407, 2.0])
fillUnder(pA, aCA)
line(pA, aEU, col.EU, 1.3)
line(pA, aNA, col.NA, 1.3)
line(pA, aAF, col.AF, 1.3)
line(pA, aSA, col.SA, 1.3)
line(pA, aNC, col.NC, 1.6, "2,1.6")
line(pA, aCA, col.CA, 1.5)
axes(pA, ageTicksA, yTicksA, d3.format(".1f"))

var legA = pA.g.append("g")
var legNamesA = ["CA", "NC", "EU", "NA", "AF", "SA"]
legNamesA.forEach(function(n, i){
	var yc = 24 + i * 11.75
	if (n == "CA"){
		legA.append("rect").attr("x", 334).attr("y", yc - 3.5).attr("width", 20).attr("height", 7)
			.attr("fill", fillCA).attr("stroke", col.CA).attr("stroke-width", 1.3)
	} else {
		legA.append("line").attr("x1", 333).attr("x2", 355).attr("y1", yc).attr("y2", yc)
			.attr("stroke", col[n]).attr("stroke-width", n == "NC" ? 1.6 : 1.3)
			.attr("stroke-dasharray", n == "NC" ? "2,1.6" : null)
	}
	legA.append("text").attr("x", 361).attr("y", yc).attr("dominant-baseline", "central").attr("font-size", 11).text(n)
})

defs.append("marker").attr("id", "arrow").attr("viewBox", "0 0 8 8").attr("refX", 7).attr("refY", 4)
	.attr("markerWidth", 6).attr("markerHeight", 6).attr("orient", "auto")
	.append("path").attr("d", "M0,0L8,4L0,8z").attr("fill", "#e2268c")
var annOff = [[42, -15, 9.4, -8.6], [-18.5, -17, -10, -8], [-9.5, -20, -4, -9]]
annotA.forEach(function(a, i){
	var tx = pA.x(a[1]), ty = pA.y(a[2]), o = annOff[i]
	svg.append("line").attr("x1", tx + o[2]).attr("y1", ty + o[3]).attr("x2", tx).attr("y2", ty)
		.attr("stroke", "#e2268c").attr("stroke-width", 1.1).attr("marker-end", "url(#arrow)")
	svg.append("text").attr("class", "cjk").attr("x", tx + o[0]).attr("y", ty + o[1])
		.attr("text-anchor", "middle").attr("dominant-baseline", "central")
		.attr("font-size", 11.5).attr("fill", "#e2268c").text(a[0])
})
note("相对于现代北方大陆动物群的区域动物群组合", 383, 239, "end")
letter("A", 3, 19)
stackText("归一化的动物群贡献率", 17, 131)
xTitle(216, 287)

// ================= B
var pB = panel(456, 800.7, 5, 252, [23.1, 0], [0, 0.10])
var bSeries = [bNC, bEU, bNA, bAF, bSA, bCA]
var bLine = ["#555555", "#9b45ad", "#2347a6", "#8b3a25", "#46bcd2", "#e8191f"]
var bStripe = ["#c4c4c4", "#c59bd3", "#8e8acb", "#c79178", "#a6dbe7", "#f5a283"]
bNames.forEach(function(n, i){
	var pat = defs.append("pattern").attr("id", "st" + n).attr("patternUnits", "userSpaceOnUse")
		.attr("width", 3.2).attr("height", 10)
	pat.append("rect").attr("x", 0).attr("y", 0).attr("width", 2).attr("height", 10).attr("fill", bStripe[i])
})
bSeries.forEach(function(s, i){
	pB.g.append("path").datum(s).attr("clip-path", pB.clip)
		.attr("d", d3.area().x(function(d){ return pB.x(d[0]) })
			.y0(function(d){ return pB.y(d[1] - bHalf[i]) })
			.y1(function(d){ return pB.y(d[1] + bHalf[i]) }))
		.attr("fill", "url(#st" + bNames[i] + ")").attr("opacity", 0.8)
})
bSeries.forEach(function(s, i){
	line(pB, s, bLine[i], i == 5 ? 1.6 : 1.3, i == 0 ? "2,1.6" : null)
})
axes(pB, ageTicksB, yTicksB, d3.format(".2f"))
var legB = pB.g.append("g")
bNames.forEach(function(n, i){
	var yc = 192.7 + i * 10.8
	legB.append("line").attr("x1", 751).attr("x2", 773).attr("y1", yc).attr("y2", yc)
		.attr("stroke", bLine[i]).attr("stroke-width", 1.5).attr("stroke-dasharray", i == 0 ? "2,1.6" : null)
	legB.append("text").attr("x", 778).attr("y", yc).attr("dominant-baseline", "central").attr("font-size", 11).text(n)
})
note("相对于现代北方大陆动物群的区域动物群组合", 462, 240, "start")
letter("B", 410, 19)
stackText("动物群贡献率", 418, 128.5)
xTitle(626, 287)

// ================= C
var cL = 43.7, cR = 388, cT = 305, cB = 555.7
var subH = (cB - cT) / 5
var xC = d3.scaleLinear().domain([23, 0]).range([cL, cR])
var gC = svg.append("g")
gC.selectAll("rect.band").data(cBands).enter().append("rect")
	.attr("x", function(d){ return xC(d[0]) }).attr("width", function(d){ return xC(d[1]) - xC(d[0]) })
	.attr("y", cT).attr("height", cB - cT).attr("fill", "#fde6bd")
gC.selectAll("line.grid").data(d3.range(22, 0, -1)).enter().append("line")
	.attr("x1", function(d){ return xC(d) }).attr("x2", function(d){ return xC(d) })
	.attr("y1", cT).attr("y2", cB).attr("stroke", "#b9b9b9").attr("stroke-width", 0.9)
cBandText.forEach(function(b){
	var cx = xC(b[1]), cy = 435
	gC.append("text").attr("class", "cjk").attr("transform", "translate(" + cx + "," + cy + ") rotate(-90)")
		.attr("text-anchor", "middle").attr("dominant-baseline", "central")
		.attr("font-size", 13).attr("fill", "#333").text(b[0])
})
var cSeries = [cNC, cEU, cNA, cAF, cSA]
var cCols = ["#ef4623", "#b95ec3", "#2f55b8", "#7e2b1d", "#66c4e4"]
cSeries.forEach(function(s, i){
	var t = cT + i * subH, b = t + subH
	var y = d3.scaleLinear().domain([-6, 1]).range([b, t])
	var id = "clipC" + i
	defs.append("clipPath").attr("id", id).append("rect").attr("x", cL).attr("y", t).attr("width", cR - cL).attr("height", subH)
	gC.append("line").attr("x1", cL).attr("x2", cR).attr("y1", y(Math.log10(0.05))).attr("y2", y(Math.log10(0.05)))
		.attr("stroke", "#e5378f").attr("stroke-width", 1.4)
	gC.append("path").datum(s).attr("clip-path", "url(#" + id + ")")
		.attr("d", d3.line().curve(d3.curveStepAfter).x(function(d){ return xC(d[0]) }).y(function(d){ return y(d[1]) }))
		.attr("fill", "none").attr("stroke", cCols[i]).attr("stroke-width", 1.4)
	var pt = gC.append("text").attr("x", 54).attr("y", y(Math.log10(0.05)) - 1.5).attr("font-size", 10).attr("font-weight", "bold").attr("fill", "#111")
	pt.append("tspan").attr("font-style", "italic").text("p")
	pt.append("tspan").text(" = 0.05")
	gC.append("text").attr("x", cR - 2).attr("y", b - 3).attr("text-anchor", "end").attr("font-size", 11).attr("fill", "#222").text(cLabels[i])
	var ay = gC.append("g").attr("transform", "translate(" + cL + ",0)")
		.call(d3.axisLeft(y).tickValues([0, -1, -2, -3, -4, -5]).tickSize(3).tickPadding(3).tickSizeOuter(0)
			.tickFormat(function(d){ return d % 2 == 0 ? String(d) : "" }))
	styleAxis(ay)
	ay.attr("font-size", 10)
	gC.append("rect").attr("x", cL).attr("y", t).attr("width", cR - cL).attr("height", subH)
		.attr("fill", "none").attr("stroke", "#222").attr("stroke-width", 1)
})
var axC = gC.append("g").attr("transform", "translate(0," + cB + ")")
	.call(d3.axisBottom(xC).tickValues(ageTicksA).tickSize(4).tickPadding(4).tickSizeOuter(0).tickFormat(d3.format("d")))
styleAxis(axC)
var ylC = svg.append("text").attr("transform", "translate(13,420) rotate(-90)").attr("text-anchor", "middle")
	.attr("dominant-baseline", "central").attr("font-size", 13).attr("fill", "#222")
ylC.append("tspan").text("log10(")
ylC.append("tspan").attr("font-style", "italic").text("p")
ylC.append("tspan").text(" Value)")
letter("C", 3, 320)
xTitle(216, 592)

// ================= D E F
function tenPanel(p, ca, eu, na, af, sa, txt, tx, anchor){
	fillUnder(p, ca)
	line(p, ncLine10, col.NC, 1.6, "2,1.6")
	line(p, eu, col.EU, 1.4)
	line(p, na, col.NA, 1.5)
	line(p, af, col.AF, 1.5)
	line(p, sa, col.SA, 1.4)
	line(p, ca, col.CA, 1.6)
	axes(p, ageTicks10, yTicks10, d3.format(".1f"))
	hLegend(p)
	note(txt, tx, p.b - 13.5, anchor)
}
var pD = panel(456.7, 801, 305, 553.3, [10, 0], [0.6, 1.5])
tenPanel(pD, dCA, dEU, dNA, dAF, dSA, "相对于后续北方大陆动物群的11–9 Ma各区域动物群", 796.5, "end")
letter("D", 410, 320)
stackText("归一化的动物群贡献率", 417, 430)
xTitle(629, 587)

var pE = panel(43.7, 388, 605, 853.3, [10, 0], [0.6, 1.5])
tenPanel(pE, eCA, eEU, eNA, eAF, eSA, "相对于后续非洲-阿拉伯动物群的11–9 Ma各区域动物群", 50, "start")
letter("E", 3, 619)
stackText("归一化的动物群贡献率", 17, 730)
xTitle(216, 887)

var pF = panel(456.7, 801, 605, 853.3, [10, 0], [0.6, 1.5])
tenPanel(pF, fCA, fEU, fNA, fAF, fSA, "相对于后续北美动物群的11–9 Ma各区域动物群", 796, "end")
letter("F", 410, 619)
stackText("归一化的动物群贡献率", 417, 730)
xTitle(629, 887)
</script>
</body>
</html>
